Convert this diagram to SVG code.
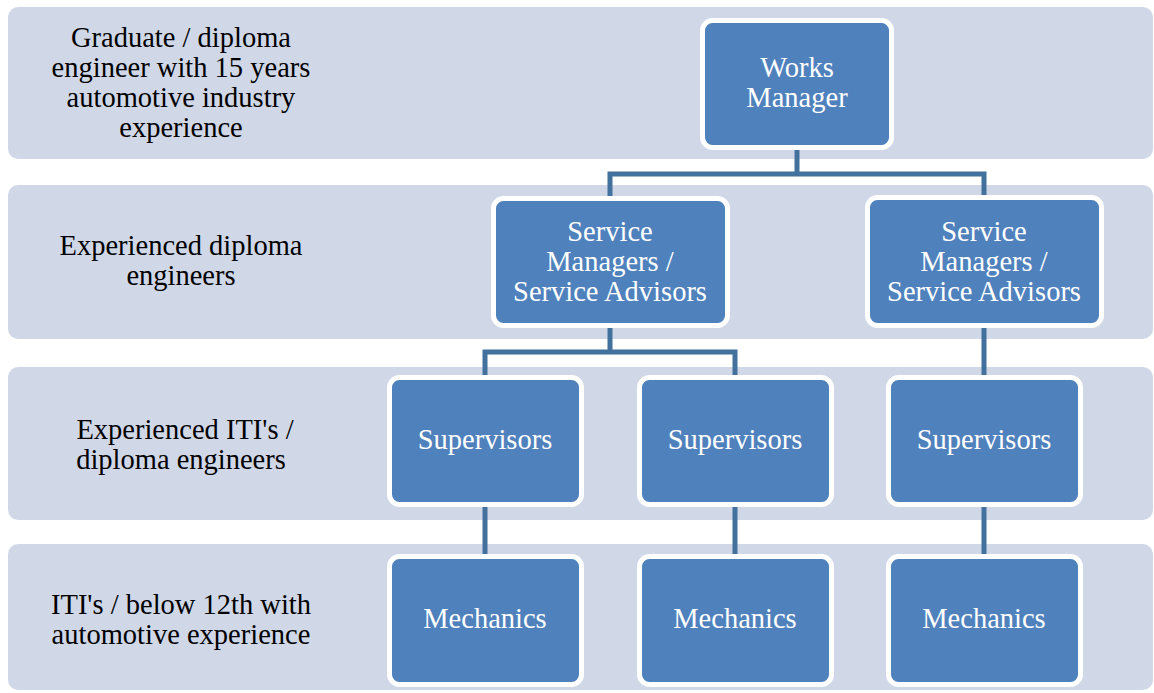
<svg xmlns="http://www.w3.org/2000/svg" width="1154" height="693" viewBox="0 0 1154 693">
<style>
.band{fill:#D0D8E8}
.box{fill:#4F81BD;stroke:#FFFFFF;stroke-width:5}
.lbl{font-family:"Liberation Serif","Times New Roman","DejaVu Serif",serif;font-size:28.5px;fill:#000;text-anchor:middle}
.nt{font-family:"Liberation Serif","Times New Roman","DejaVu Serif",serif;font-size:28.5px;fill:#FFFFFF;text-anchor:middle}
.con{fill:none;stroke:#41719C;stroke-width:5}
</style>
<rect width="1154" height="693" fill="#FFFFFF"/>
<g id="band1"><rect class="band" x="8" y="7" width="1145" height="152" rx="10"/>
<text class="lbl"><tspan x="181" y="47">Graduate / diploma</tspan><tspan x="181" y="77">engineer with 15 years</tspan><tspan x="181" y="107">automotive industry</tspan><tspan x="181" y="137">experience</tspan></text></g>
<g id="band2"><rect class="band" x="8" y="185" width="1145" height="154" rx="10"/>
<text class="lbl"><tspan x="181" y="255">Experienced diploma</tspan><tspan x="181" y="285">engineers</tspan></text></g>
<g id="band3"><rect class="band" x="8" y="367" width="1145" height="153" rx="10"/>
<text class="lbl"><tspan x="185" y="439">Experienced ITI's /</tspan><tspan x="181" y="469">diploma engineers</tspan></text></g>
<g id="band4"><rect class="band" x="8" y="544" width="1145" height="146" rx="10"/>
<text class="lbl"><tspan x="181" y="614">ITI's / below 12th with</tspan><tspan x="181" y="644">automotive experience</tspan></text></g>
<g id="connectors">
<path class="con" d="M797 149V174H610V198M797 174H984V198"/>
<path class="con" d="M610 326V352H485V378M610 352H735V378"/>
<path class="con" d="M984 326V378"/>
<path class="con" d="M485 505V557M735 505V557M984 505V557"/>
</g>
<g id="works-manager"><rect class="box" x="702.5" y="20.5" width="189" height="127" rx="10"/>
<text class="nt"><tspan x="797" y="77">Works</tspan><tspan x="797" y="107">Manager</tspan></text></g>
<g id="service1"><rect class="box" x="493.5" y="198.5" width="234" height="127" rx="10"/>
<text class="nt"><tspan x="610" y="241">Service</tspan><tspan x="610" y="271">Managers /</tspan><tspan x="610" y="301">Service Advisors</tspan></text></g>
<g id="service2"><rect class="box" x="867.5" y="197.5" width="234" height="128" rx="10"/>
<text class="nt"><tspan x="984" y="241">Service</tspan><tspan x="984" y="271">Managers /</tspan><tspan x="984" y="301">Service Advisors</tspan></text></g>
<g id="supervisors1"><rect class="box" x="389.5" y="377.5" width="192" height="127" rx="10"/>
<text class="nt" x="485" y="449">Supervisors</text></g>
<g id="supervisors2"><rect class="box" x="639.5" y="377.5" width="192" height="127" rx="10"/>
<text class="nt" x="735" y="449">Supervisors</text></g>
<g id="supervisors3"><rect class="box" x="888.5" y="377.5" width="192" height="127" rx="10"/>
<text class="nt" x="984" y="449">Supervisors</text></g>
<g id="mechanics1"><rect class="box" x="389.5" y="556.5" width="192" height="128" rx="10"/>
<text class="nt" x="485" y="628">Mechanics</text></g>
<g id="mechanics2"><rect class="box" x="639.5" y="556.5" width="192" height="128" rx="10"/>
<text class="nt" x="735" y="628">Mechanics</text></g>
<g id="mechanics3"><rect class="box" x="888.5" y="556.5" width="192" height="128" rx="10"/>
<text class="nt" x="984" y="628">Mechanics</text></g>
</svg>
